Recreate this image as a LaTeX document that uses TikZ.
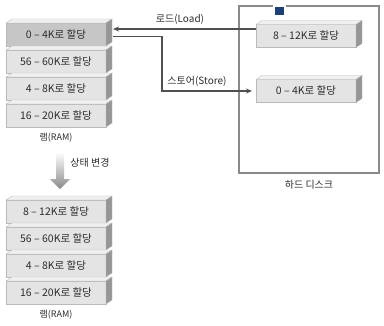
\documentclass[tikz,border=0pt]{standalone}
\usepackage{fontspec}
\setmainfont{Noto Sans CJK KR}
\usetikzlibrary{arrows.meta,positioning}
\definecolor{inkgray}{RGB}{45,45,45}
\definecolor{slabfront}{RGB}{228,228,228}
\definecolor{slabpick}{RGB}{198,198,198}
\definecolor{slabtopc}{RGB}{240,240,240}
\definecolor{slabsidec}{RGB}{150,150,150}
\definecolor{slabedge}{RGB}{185,185,185}
\definecolor{wirec}{RGB}{80,80,80}
\definecolor{boxc}{RGB}{138,138,138}
\definecolor{navyc}{RGB}{28,63,122}
\begin{document}
\begin{tikzpicture}[x=1pt,y=-1pt,
  slab/.style={draw=slabedge,line width=0.4pt,minimum width=100pt,minimum height=23pt,inner sep=0pt,outer sep=0pt,text=inkgray,font=\fontsize{10.5}{12}\selectfont},
  slabtop/.style={fill=slabtopc,draw=slabedge,line width=0.4pt},
  slabside/.style={fill=slabsidec,draw=slabedge,line width=0.4pt},
  caption/.style={inner sep=0pt,outer sep=0pt,text=inkgray,font=\fontsize{10}{12}\selectfont},
  ramcap/.style={inner sep=0pt,outer sep=0pt,text=inkgray,font=\fontsize{9}{11}\selectfont},
  wire/.style={draw=wirec,line width=1.1pt}]
\path[use as bounding box] (0,0) rectangle (384,325);
% RAM before and after, and the two pages on the disk
\foreach \name/\xpos/\ypos/\tone/\txt in {
  r1/56/34.5/slabpick/{0 – 4K로 할당}, r2/56/61.5/slabfront/{56 – 60K로 할당},
  r3/56/88.5/slabfront/{4 – 8K로 할당}, r4/56/115.5/slabfront/{16 – 20K로 할당},
  s1/56/211.5/slabfront/{8 – 12K로 할당}, s2/56/238.5/slabfront/{56 – 60K로 할당},
  s3/56/265.5/slabfront/{4 – 8K로 할당}, s4/56/292.5/slabfront/{16 – 20K로 할당},
  diskA/306/36/slabfront/{8 – 12K로 할당}, diskB/306/91/slabfront/{0 – 4K로 할당}}{
  \node[slab,fill=\tone] (\name) at (\xpos,\ypos) {\txt};
  \path[slabtop] (\name.north west) -- ++(6,-4) -- ++(100,0) -- (\name.north east) -- cycle;
  \path[slabside] (\name.north east) -- ++(6,-4) -- ++(0,23) -- (\name.south east) -- cycle;
}
\node[ramcap,below=6pt of r4] (ramlbl) {램(RAM)};
\node[ramcap,below=6pt of s4] (ramlbl2) {램(RAM)};
% hard disk
\node[draw=boxc,line width=2pt,minimum width=140pt,minimum height=167pt,inner sep=0pt] (disk) at (309,89.5) {};
\node[caption,below=6pt of disk] (disklbl) {하드 디스크};
\path[fill=white] (273,3) rectangle (286,8.5);
\path[fill=navyc] (275,7) rectangle (284,15);
% load and store
\coordinate (ldstart) at ([yshift=7pt]diskA.west);
\coordinate (ldend) at ([xshift=7pt]r1.east);
\draw[wire,-{Stealth[length=6pt,width=5pt]}] (ldstart) -- (ldstart -| ldend);
\node[caption] (loadlbl) at (180,19) {로드(Load)};
\coordinate (ststart) at ([xshift=7pt,yshift=-2pt]r1.east);
\draw[wire,-{Stealth[length=6pt,width=5pt]}] (ststart) -- ++(49,0) |- ([xshift=-4pt]diskB.west);
\node[caption] (storelbl) at (197,81) {스토어(Store)};
% state change
\shade[top color=white,bottom color=boxc] (56,152) -- (64,152) -- (64,179) -- (70,179) -- (60,189) -- (50,179) -- (56,179) -- cycle;
\node[caption] (chglbl) at (90,163) {상태 변경};
\end{tikzpicture}
\end{document}
